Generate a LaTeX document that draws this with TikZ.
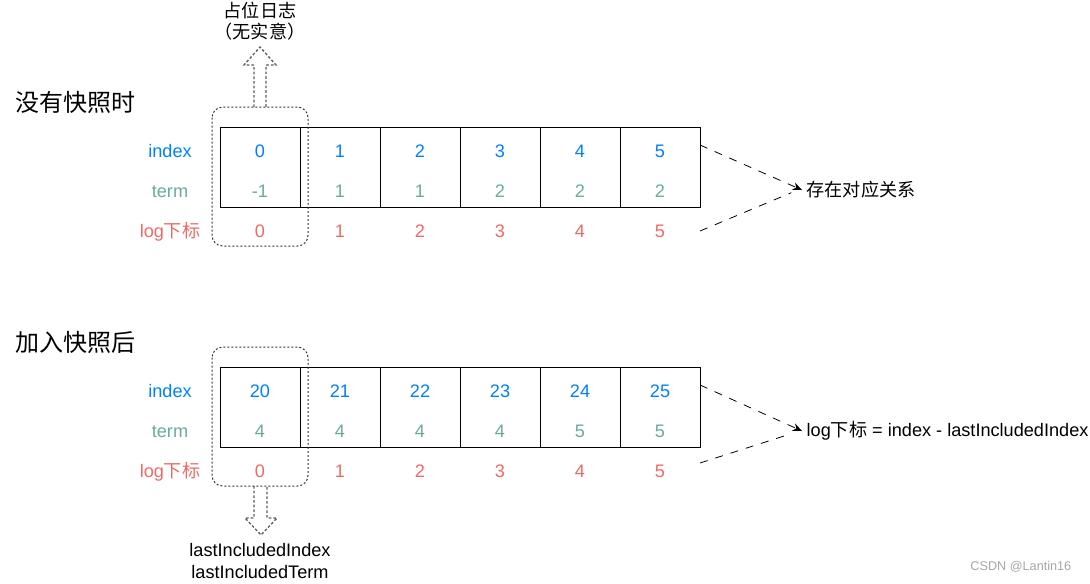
\documentclass[tikz,border=0pt]{standalone}
\usepackage{fontspec}
\setmainfont{Liberation Sans}
\newfontfamily\cjk{Noto Sans CJK SC}
\usetikzlibrary{arrows.meta}
\definecolor{idxblue}{HTML}{007FFF}
\definecolor{termgreen}{HTML}{67AB9F}
\definecolor{logred}{HTML}{EA6B66}
\definecolor{hintgray}{HTML}{333333}
\begin{document}
\begin{tikzpicture}[x=0.75pt,y=-0.75pt,font=\fontsize{13.6}{16}\selectfont]
                \tikzset{CellStyle/.style={draw, line width=0.75pt, minimum width=60pt, minimum height=60pt, inner sep=0pt}}
                \tikzset{RowText/.style={anchor=mid, yshift=-2.2pt}}
                \tikzset{IndexStyle/.style={RowText, text=idxblue}, TermStyle/.style={RowText, text=termgreen}, LogStyle/.style={RowText, text=logred}}
                \tikzset{GroupStyle/.style={draw=hintgray, dash pattern=on 1.5pt off 1.5pt, rounded corners=8pt, line width=0.75pt}}
                \tikzset{HollowArrow/.style={draw=hintgray!80, dash pattern=on 2pt off 1.5pt, line width=1pt}}
                \tikzset{LinkStyle/.style={dash pattern=on 6pt off 6pt, line width=0.6pt}}
                \useasboundingbox (0,0) rectangle (1090,583);
                % headings
                \node[anchor=west, font=\cjk\fontsize{18}{20}\selectfont] (head1) at (11,102) {没有快照时};
                \node[anchor=west, font=\cjk\fontsize{18}{20}\selectfont] (head2) at (11,342) {加入快照后};
                % row labels
                \node[IndexStyle] (idxA) at (170,151) {index};
                \node[TermStyle] (termA) at (170,191) {term};
                \node[LogStyle] (logA) at (170,231) {log{\cjk 下标}};
                \node[IndexStyle] (idxB) at (170,391) {index};
                \node[TermStyle] (termB) at (170,431) {term};
                \node[LogStyle] (logB) at (170,471) {log{\cjk 下标}};
                % cells without snapshot
                \foreach \i/\t in {0/-1,1/1,2/1,3/2,4/2,5/2}{
                    \node[CellStyle] (top\i) at (260+80*\i,167) {};
                    \node[IndexStyle] (topidx\i) at (260+80*\i,151) {\i};
                    \node[TermStyle] (topterm\i) at (260+80*\i,191) {\t};
                    \node[LogStyle] (toplog\i) at (260+80*\i,231) {\i};
                }
                % cells with snapshot
                \foreach \i/\a/\t in {0/20/4,1/21/4,2/22/4,3/23/4,4/24/5,5/25/5}{
                    \node[CellStyle] (bot\i) at (260+80*\i,407) {};
                    \node[IndexStyle] (botidx\i) at (260+80*\i,391) {\a};
                    \node[TermStyle] (botterm\i) at (260+80*\i,431) {\t};
                    \node[LogStyle] (botlog\i) at (260+80*\i,471) {\i};
                }
                % placeholder groups
                \draw[GroupStyle] (212,107) rectangle (308,246);
                \draw[GroupStyle] (212,347) rectangle (308,486);
                \draw[HollowArrow] (254,107) -- (254,65) -- (244,65) -- (260,47) -- (276,65) -- (266,65) -- (266,107);
                \draw[HollowArrow] (254,486) -- (254,518) -- (245,518) -- (261,535) -- (277,518) -- (267,518) -- (267,486);
                \node[font=\cjk\fontsize{13.6}{16}\selectfont, align=center] (holder) at (260,21) {占位日志\\（无实意）};
                \node[align=center] (lastinc) at (260,561) {lastIncludedIndex\\lastIncludedTerm};
                % relations
                \node[anchor=west, font=\cjk\fontsize{13.6}{16}\selectfont] (relA) at (802,190) {存在对应关系};
                \node[anchor=west] (relB) at (802,431) {log{\cjk 下标} = index - lastIncludedIndex};
                \coordinate (fromA1) at (700,145);
                \coordinate (fromA2) at (700,231);
                \coordinate (fromB1) at (700,385);
                \coordinate (fromB2) at (700,463);
                \draw[LinkStyle, -{Stealth[length=7pt,width=6pt]}] (fromA1) -- (relA.west);
                \draw[LinkStyle] (fromA2) -- ([xshift=-8pt,yshift=-2pt]relA.west);
                \draw[LinkStyle, -{Stealth[length=7pt,width=6pt]}] (fromB1) -- (relB.west);
                \draw[LinkStyle] (fromB2) -- ([xshift=-8pt,yshift=-2pt]relB.west);
                % watermark
                \node[anchor=east, text=gray!70, font=\fontsize{9.5}{11}\selectfont] (mark) at (1076,567) {CSDN @Lantin16};
            \end{tikzpicture}
\end{document}
